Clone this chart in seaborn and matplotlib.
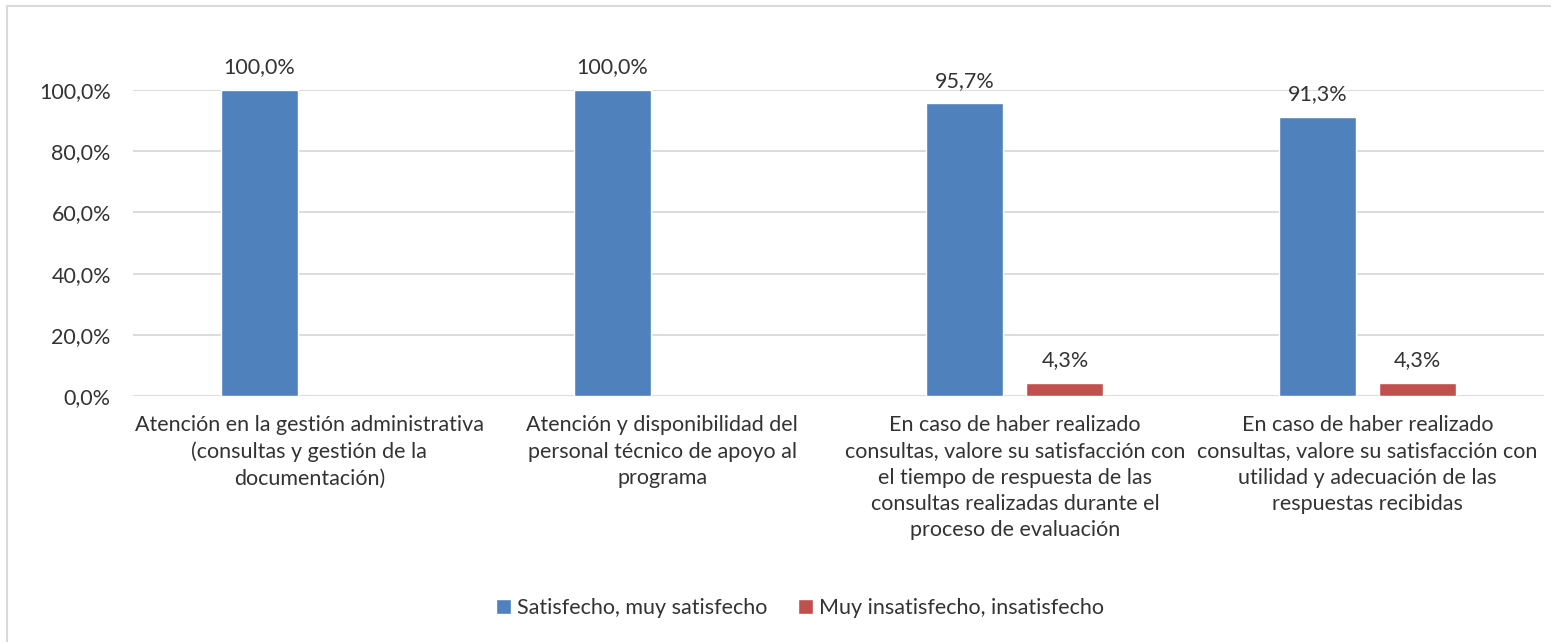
import numpy as np
import pandas as pd
import matplotlib
matplotlib.use("Agg")
import matplotlib.pyplot as plt
import seaborn as sns
from matplotlib.patches import Rectangle

categories = [
    "Atención en la gestión administrativa\n(consultas y gestión de la\ndocumentación)",
    "Atención y disponibilidad del\npersonal técnico de apoyo al\nprograma",
    "En caso de haber realizado\nconsultas, valore su satisfacción con\nel tiempo de respuesta de las\nconsultas realizadas durante el\nproceso de evaluación",
    "En caso de haber realizado\nconsultas, valore su satisfacción con\nutilidad y adecuación de las\nrespuestas recibidas",
]
series = ["Satisfecho, muy satisfecho", "Muy insatisfecho, insatisfecho"]
satisfecho = [100.0, 100.0, 95.7, 91.3]
insatisfecho = [np.nan, np.nan, 4.3, 4.3]
y_ticks = [0, 20, 40, 60, 80, 100]
colors = ["#4F81BD", "#C0504D"]

df = pd.DataFrame({
    "cat": categories * 2,
    "serie": [series[0]] * len(categories) + [series[1]] * len(categories),
    "val": satisfecho + insatisfecho,
})

sns.set_theme(style="white")
plt.rcParams["font.family"] = ["Lato", "DejaVu Sans"]
text_color = "#333333"
fs = 15.5

fig = plt.figure(figsize=(15.51, 6.42), dpi=100)
ax = fig.add_axes([133 / 1551, 1 - 396 / 642, (1544 - 133) / 1551, (396 - 90) / 642])

sns.barplot(data=df, x="cat", y="val", hue="serie", hue_order=series,
            order=categories, palette=colors, saturation=1,
            width=0.567, gap=0.23, ax=ax, legend=True, errorbar=None)

ax.set_ylim(0, 100)
ax.set_yticks(y_ticks)
ax.set_yticklabels([f"{v:.1f}%".replace(".", ",") for v in y_ticks],
                   fontsize=fs, color=text_color)
ax.set_xticks(range(len(categories)))
ax.set_xticklabels(categories, fontsize=fs, color=text_color, linespacing=1.38)
ax.tick_params(axis="y", length=0, pad=16)
ax.tick_params(axis="x", length=0, pad=14)
ax.set_xlabel("")
ax.set_ylabel("")
ax.yaxis.grid(True, color="#d9d9d9", lw=1.3)
ax.set_axisbelow(True)
for s in ax.spines.values():
    s.set_visible(False)

for cont in ax.containers:
    labels = []
    for p in cont:
        h = p.get_height()
        labels.append("" if (h is None or np.isnan(h) or h == 0) else f"{h:.1f}%".replace(".", ","))
    ax.bar_label(cont, labels=labels, padding=9, fontsize=fs, color=text_color, clip_on=False)

leg = ax.get_legend()
handles = leg.legend_handles
leg.remove()
fig.legend(handles, series, loc="center", bbox_to_anchor=(800 / 1551, 1 - 608 / 642),
           ncol=2, frameon=False, fontsize=fs, handlelength=0.7, handleheight=0.7,
           handletextpad=0.3, columnspacing=1.4, labelcolor=text_color)

fig.patches.append(Rectangle((7 / 1551, -0.05), 1.2, 1.05 - 6 / 642,
                             transform=fig.transFigure, fill=False,
                             edgecolor="#d9d9d9", lw=1.5))

fig.savefig("out.png", dpi=100, facecolor="white")
